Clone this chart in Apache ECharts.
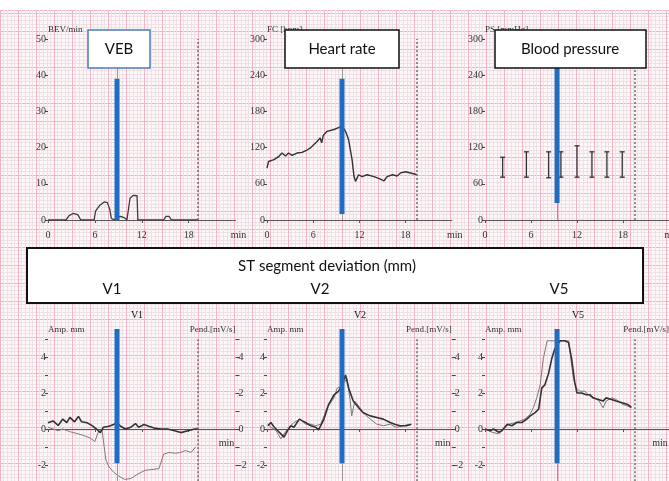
<!DOCTYPE html>
<html>
<head>
<meta charset="utf-8" />
<title>ST segment deviation</title>
<script src="https://cdn.jsdelivr.net/npm/echarts@6/dist/echarts.min.js"></script>
<style>
  html, body { margin: 0; padding: 0; background: #fdf7f8; }
  #main { width: 669px; height: 481px; }
</style>
</head>
<body>
<div id="main"></div>
<script>
// ---- data (minutes, value) ----
var minuteLabels = [0, 6, 12, 18];
var stLabels = [-2, 0, 2, 4];
var stTicks = [-2, -1, 0, 1, 2, 3, 4, 5];

var vebData = [[0,0],[2.3,0],[2.7,1.2],[3.2,1.8],[3.8,1.5],[4.2,0],[5.9,0],[6.1,2.5],[6.6,4],[7.2,5],[7.6,4.8],
  [7.9,3],[8.1,0.5],[8.5,0],[8.8,0.8],[9.3,1],[9.8,0.6],[10.1,0],[10.3,0],[10.5,6],[10.9,6.8],[11.4,6.7],
  [11.5,0],[14.8,0],[15.1,1],[15.5,1],[15.8,0],[19.2,0]];

var hrData = [[0,86],[0.2,97],[0.9,100],[1.5,105],[1.95,111],[2.4,106],[2.8,111],[3.25,107],[3.9,111],[4.55,112],
  [5.2,116],[5.6,119],[6.5,130],[6.9,136],[7.1,128],[7.3,140],[7.8,147],[8.7,150],[9.3,153],[9.75,156],
  [10.2,147],[10.6,133],[11.05,100],[11.3,72],[11.5,64],[11.9,75],[12.35,72],[13,75],[13.9,72],[14.5,69],
  [15.2,65],[15.6,72],[16.3,75],[16.9,73],[17.35,78],[18,80],[18.9,77],[19.5,75]];

var bpTime = [2.3, 5.4, 8.3, 9.9, 12.0, 13.95, 15.9, 17.9];
var bpSys = [104, 113, 113, 113, 123, 113, 113, 113];
var bpDia = [71, 71, 70, 71, 71, 71, 71, 71];

var v1Amp = [[0,0.35],[0.65,0.45],[1.3,0.2],[1.9,0.55],[2.4,0.35],[2.8,0.65],[3.4,0.4],[3.9,0.7],[4.3,0.4],
  [5,0.35],[5.6,0.2],[6.2,0],[6.7,-0.2],[7.1,0.1],[7.8,0.15],[8.4,0.25],[8.8,0.35],[9.3,0.15],[9.9,0],
  [10.6,0.1],[11.2,0.3],[11.6,0.1],[12.3,0.25],[12.9,0.15],[13.6,0.05],[14.4,0],[15.3,0],[16.2,-0.1],
  [17,-0.2],[17.9,-0.1],[18.8,0],[19.2,0]];
var v1Pend = [[0,0.1],[0.65,0],[1.3,-0.1],[1.9,0],[2.8,-0.15],[3.7,-0.25],[4.5,-0.35],[5.4,-0.5],[6,-0.7],
  [6.4,-0.2],[6.9,0],[7.1,-0.1],[7.4,-1.7],[7.8,-2.1],[8.4,-2.4],[9,-2.6],[9.8,-2.8],[10.6,-2.75],
  [11.5,-2.5],[12.4,-2.3],[13.3,-2.25],[14.2,-2.2],[14.8,-1.4],[15.5,-1.3],[16.3,-1.35],[17,-1.3],
  [17.6,-1.2],[18.3,-1.3],[18.9,-1.0]];

var v2Amp = [[0.1,0.18],[0.5,0.36],[0.95,0.1],[1.4,-0.1],[1.8,-0.27],[2.2,-0.45],[2.65,-0.1],[3.1,0.18],
  [3.5,0.1],[4.2,0.55],[4.6,0.45],[5.0,0.36],[5.7,0.18],[6.3,0.1],[6.7,-0.05],[7.4,0.55],[8.0,1.36],
  [8.7,1.9],[9.3,2.1],[9.75,2.45],[10.2,3.0],[10.6,2.27],[11.2,1.55],[11.9,1.18],[12.5,0.9],[13.4,0.73],
  [14.25,0.64],[15.1,0.55],[16,0.36],[16.6,0.27],[17.25,0.18],[18.1,0.18],[18.75,0.27]];
var v2Pend = [[0.1,0.27],[0.5,0.1],[1.2,-0.1],[1.8,-0.55],[2.2,-0.27],[2.9,0.1],[3.5,0.36],[4.3,0.55],
  [5.0,0.27],[5.7,0.27],[6.3,0.18],[7.0,0.27],[7.8,1.18],[8.7,1.73],[9.1,2.27],[9.6,2.36],[10.4,2.8],
  [10.8,1.6],[11.0,0.73],[11.4,1.55],[12.1,1.18],[12.5,0.9],[13.4,0.55],[14.25,0.27],[15.1,0.18],
  [16,0.27],[16.8,0.09],[17.7,0.18],[18.5,0.27]];

var v5Amp = [[0,0],[0.7,-0.1],[1.1,0],[1.8,-0.18],[2.2,-0.1],[2.9,0.27],[3.5,0.18],[4.15,0.36],[4.8,0.36],
  [5.45,0.55],[5.9,0.73],[6.5,0.9],[7.0,1.1],[7.4,2.27],[7.8,2.45],[8.3,3.1],[8.7,3.9],[9.1,4.45],
  [9.8,4.9],[10.4,4.9],[10.9,4.8],[11.3,3.9],[11.7,2.6],[12.0,2.0],[12.6,2.0],[13.2,1.9],[13.7,1.9],
  [14.1,1.73],[14.8,1.64],[15.4,1.55],[15.8,1.73],[16.5,1.64],[17.1,1.55],[18.0,1.45],[18.65,1.36],[19.1,1.2]];
var v5Pend = [[0,0],[0.9,-0.18],[1.8,-0.27],[2.4,0],[3.1,0.27],[4,0.36],[4.6,0.45],[5.2,0.55],[5.9,0.82],
  [6.3,1.18],[6.75,1.73],[7.2,2.45],[7.6,3.9],[8.1,4.9],[10.9,4.9],[11.5,2.9],[11.9,2.27],[12.4,2.1],
  [13.0,2.1],[13.7,1.82],[14.3,1.73],[14.9,1.55],[15.4,1.18],[15.8,1.55],[16.5,1.73],[17.1,1.64],
  [18.0,1.36],[18.65,1.27],[19.1,1.18]];

// blue event markers: [minute, from, to]
var vebMarker = [8.83, 0, 39];
var hrMarker = [9.74, 10, 234];
var bpMarker = [9.4, 28, 252];
var v1Marker = [8.83, -1.9, 5.55];
var v2Marker = [9.74, -1.9, 5.55];
var v5Marker = [9.4, -1.9, 5.55];
// dotted end-of-record lines
var endLines = [19.2, 19.5, 19.55, 19.2, 19.5, 19.5];

var BLUE = '#1f6dc0';
var SERIF = 'Liberation Serif';
var SANS = 'Lato';

var panelLeft = [48, 267, 485];
var panelWidth = [187.5, 184.8, 184];

var grids = [{ left: 0, right: 0, top: 10, bottom: 0, outerBoundsMode: 'none' }];
var xAxes = [{
  type: 'value', gridIndex: 0, min: 0, max: 669, interval: 18,
  axisLine: { show: false }, axisTick: { show: false }, axisLabel: { show: false },
  splitLine: { lineStyle: { color: '#f4b3c6', width: 1 } },
  minorTick: { show: false, splitNumber: 5 },
  minorSplitLine: { show: true, lineStyle: { color: '#eee1e5', width: 1 } }
}];
var yAxes = [{
  type: 'value', gridIndex: 0, min: 0, max: 471, interval: 18,
  axisLine: { show: false }, axisTick: { show: false }, axisLabel: { show: false },
  splitLine: { lineStyle: { color: '#f4b3c6', width: 1 } },
  minorTick: { show: false, splitNumber: 5 },
  minorSplitLine: { show: true, lineStyle: { color: '#eee1e5', width: 1 } }
}];

var labelStyle = { fontFamily: SERIF, fontSize: 10, color: '#333' };

function xAxisFor(grid, bottom) {
  return {
    type: 'value', gridIndex: grid, min: 0, max: 24,
    name: 'min', nameLocation: 'end', nameGap: bottom ? -9 : 3,
    nameTextStyle: { fontFamily: SERIF, fontSize: 10, color: '#333', align: 'center', verticalAlign: 'top', padding: [bottom ? 9 : 10, 0, 0, 0] },
    axisLine: { show: true, lineStyle: { color: '#555', width: 1.2 } },
    axisTick: { show: true, length: 3, customValues: minuteLabels, lineStyle: { color: '#555' } },
    axisLabel: Object.assign({ customValues: minuteLabels, margin: bottom ? 8 : 10 }, labelStyle),
    splitLine: { show: false }
  };
}

// top panels
var topNames = ['BEV/min', 'FC [bpm]', 'PS [mmHg]'];
var topMax = [50, 300, 300];
var topInterval = [10, 60, 60];
for (var i = 0; i < 3; i++) {
  grids.push({ left: panelLeft[i], top: 39, width: panelWidth[i], height: 181, outerBoundsMode: 'none' });
  xAxes.push(xAxisFor(i + 1, false));
  yAxes.push({
    type: 'value', gridIndex: i + 1, min: 0, max: topMax[i], interval: topInterval[i],
    name: topNames[i], nameLocation: 'end', nameGap: 4,
    nameTextStyle: { fontFamily: SERIF, fontSize: 9, color: '#333', align: 'left' },
    axisLine: { show: false },
    axisTick: { show: true, length: 3, lineStyle: { color: '#444' } },
    axisLabel: Object.assign({ margin: 2 }, labelStyle),
    splitLine: { show: false }
  });
}
// bottom panels
for (var j = 0; j < 3; j++) {
  grids.push({ left: panelLeft[j], top: 339, width: panelWidth[j], height: 142.2, outerBoundsMode: 'none' });
  xAxes.push(xAxisFor(j + 4, true));
  yAxes.push({
    type: 'value', gridIndex: j + 4, min: -2.9, max: 5,
    name: 'Amp. mm', nameLocation: 'end', nameGap: 5,
    nameTextStyle: { fontFamily: SERIF, fontSize: 9, color: '#333', align: 'left' },
    axisLine: { show: false },
    axisTick: { show: true, length: 3, customValues: stTicks, lineStyle: { color: '#444' } },
    axisLabel: Object.assign({ margin: 2, customValues: stLabels }, labelStyle),
    splitLine: { show: false }
  });
}
for (var k = 0; k < 3; k++) {
  yAxes.push({
    type: 'value', gridIndex: k + 4, min: -2.9, max: 5, position: 'right',
    name: 'Pend.[mV/s]', nameLocation: 'end', nameGap: 5,
    nameTextStyle: { fontFamily: SERIF, fontSize: 9, color: '#333', align: 'right' },
    axisLine: { show: false },
    axisTick: { show: true, length: 4, customValues: stTicks, lineStyle: { color: '#444' } },
    axisLabel: Object.assign({ margin: 3, customValues: stLabels }, labelStyle),
    splitLine: { show: false }
  });
}

function refLines(endX, markX) {
  return {
    silent: true, symbol: 'none', label: { show: false }, animation: false,
    data: [
      { xAxis: endX, lineStyle: { color: '#6f6f6f', width: 1.5, type: [2, 2] } },
      { xAxis: markX, lineStyle: { color: '#999', width: 1, type: 'solid' } }
    ]
  };
}
function trace(name, data, idx, color, width, mark) {
  var s = {
    name: name, type: 'line', data: data, xAxisIndex: idx, yAxisIndex: idx,
    symbol: 'none', lineStyle: { color: color, width: width }, z: 3
  };
  if (mark) s.markLine = mark;
  return s;
}
function marker(m, idx) {
  return {
    type: 'line', data: [[m[0], m[1]], [m[0], m[2]]], xAxisIndex: idx, yAxisIndex: idx,
    symbol: 'none', clip: false, z: 5, lineStyle: { color: BLUE, width: 5, cap: 'butt' }
  };
}

var bpData = bpTime.map(function (t, i) { return [t, bpSys[i], bpDia[i]]; });

var series = [
  trace('VEB', vebData, 1, '#3c3c3c', 1.3, refLines(endLines[0], vebMarker[0])),
  marker(vebMarker, 1),
  trace('Heart rate', hrData, 2, '#333', 1.4, refLines(endLines[1], hrMarker[0])),
  marker(hrMarker, 2),
  {
    name: 'Blood pressure', type: 'custom', xAxisIndex: 3, yAxisIndex: 3, data: bpData,
    encode: { x: 0, y: [1, 2] }, z: 3,
    renderItem: function (params, api) {
      var top = api.coord([api.value(0), api.value(1)]);
      var bot = api.coord([api.value(0), api.value(2)]);
      var st = { stroke: '#333', lineWidth: 1.3 };
      return { type: 'group', children: [
        { type: 'line', shape: { x1: top[0], y1: top[1], x2: bot[0], y2: bot[1] }, style: st },
        { type: 'line', shape: { x1: top[0] - 2.5, y1: top[1], x2: top[0] + 2.5, y2: top[1] }, style: st },
        { type: 'line', shape: { x1: bot[0] - 2.5, y1: bot[1], x2: bot[0] + 2.5, y2: bot[1] }, style: st }
      ] };
    },
    markLine: refLines(endLines[2], bpMarker[0])
  },
  marker(bpMarker, 3),
  trace('V1 Pend', v1Pend, 4, '#7a7a7a', 1, refLines(endLines[3], v1Marker[0])),
  trace('V1 Amp', v1Amp, 4, '#333', 1.6),
  marker(v1Marker, 4),
  trace('V2 Pend', v2Pend, 5, '#7a7a7a', 1, refLines(endLines[4], v2Marker[0])),
  trace('V2 Amp', v2Amp, 5, '#333', 1.6),
  marker(v2Marker, 5),
  trace('V5 Pend', v5Pend, 6, '#7a7a7a', 1, refLines(endLines[5], v5Marker[0])),
  trace('V5 Amp', v5Amp, 6, '#333', 1.6),
  marker(v5Marker, 6)
];

function box(x, y, w, h, stroke, lw) {
  return { type: 'rect', shape: { x: x, y: y, width: w, height: h }, z: 100,
    style: { fill: '#fff', stroke: stroke, lineWidth: lw } };
}
function txt(t, x, y, size, font) {
  return { type: 'text', x: x, y: y, z: 101,
    style: { text: t, fill: '#111', fontSize: size, fontFamily: font || SANS, align: 'center', verticalAlign: 'middle' } };
}

var chart = echarts.init(document.getElementById('main'), null, { renderer: 'canvas' });
chart.setOption({
  animation: false,
  backgroundColor: '#fdf7f8',
  grid: grids,
  xAxis: xAxes,
  yAxis: yAxes,
  series: series,
  graphic: [
    { type: 'rect', shape: { x: 0, y: 0, width: 669, height: 10 }, z: 1, style: { fill: '#fff' } },
    box(88, 30, 62, 38, '#4a7ebb', 1.5), txt('VEB', 119, 49, 15),
    box(285, 30, 114, 38, '#111', 1.5), txt('Heart rate', 342, 49, 15),
    box(495, 30, 151, 38, '#111', 1.5), txt('Blood pressure', 570, 49, 15),
    box(27, 248, 616, 55, '#111', 2),
    txt('ST segment deviation (mm)', 327, 266, 15),
    txt('V1', 112, 289, 15), txt('V2', 320, 289, 15), txt('V5', 559, 289, 15),
    txt('V1', 137, 315, 10, SERIF), txt('V2', 360, 315, 10, SERIF), txt('V5', 578, 315, 10, SERIF)
  ]
});
</script>
</body>
</html>
